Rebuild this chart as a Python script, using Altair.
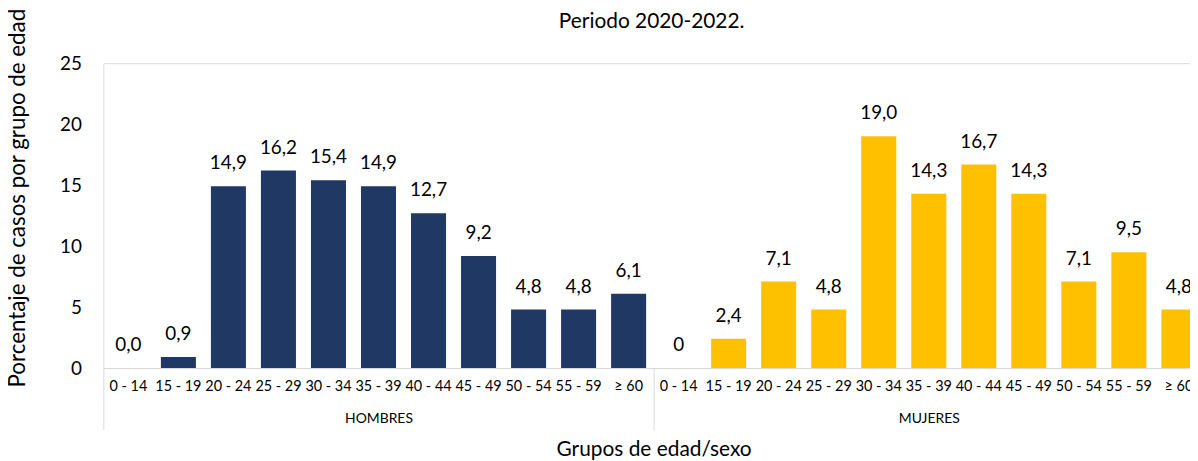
import altair as alt
import pandas as pd

title_text = "Periodo 2020-2022."
ages = ["0 - 14", "15 - 19", "20 - 24", "25 - 29", "30 - 34", "35 - 39",
        "40 - 44", "45 - 49", "50 - 54", "55 - 59", "≥ 60"]
groups = ["HOMBRES", "MUJERES"]
hombres = [0.0, 0.9, 14.9, 16.2, 15.4, 14.9, 12.7, 9.2, 4.8, 4.8, 6.1]
mujeres = [0.0, 2.4, 7.1, 4.8, 19.0, 14.3, 16.7, 14.3, 7.1, 9.5, 4.8]
hombres_lbl = ["0,0", "0,9", "14,9", "16,2", "15,4", "14,9", "12,7", "9,2", "4,8", "4,8", "6,1"]
mujeres_lbl = ["0", "2,4", "7,1", "4,8", "19,0", "14,3", "16,7", "14,3", "7,1", "9,5", "4,8"]
colors = ["#203864", "#FFC000"]

rows = []
for g, vals, lbls in [("HOMBRES", hombres, hombres_lbl), ("MUJERES", mujeres, mujeres_lbl)]:
    for a, v, l in zip(ages, vals, lbls):
        rows.append({"key": g + "|" + a, "sexo": g, "edad": a, "valor": v, "etiqueta": l})
df = pd.DataFrame(rows)
keys = list(df["key"])
gdf = pd.DataFrame({"grupo": groups})
tdf = pd.DataFrame({"t": [title_text]})

FONT = "Lato"
W, H = 1108, 307

x_enc = alt.X(
    "key:N", sort=keys,
    scale=alt.Scale(paddingInner=0.3, paddingOuter=0.15),
    axis=alt.Axis(
        title="", orient="bottom", labelExpr="split(datum.label, '|')[1]",
        labelAngle=0, labelFontSize=14.5, labelFont=FONT, labelColor="#000000",
        labelBaseline="middle", labelPadding=19, ticks=False, tickSize=0,
        domain=True, domainColor="#d9d9d9", domainWidth=1, grid=False,
    ),
)
y_enc = alt.Y(
    "valor:Q",
    scale=alt.Scale(domain=[0, 25], nice=False),
    axis=alt.Axis(
        values=[0, 5, 10, 15, 20, 25], grid=False, domain=False, ticks=False,
        labelFontSize=19, labelFont=FONT, labelColor="#000000", labelPadding=22,
        title="Porcentaje de casos por grupo de edad", titleFontSize=22.5,
        titleFont=FONT, titleFontWeight="normal", titleColor="#000000",
        titleAngle=270, titleAlign="left", titleBaseline="middle",
        titleX=-86, titleY=326,
    ),
)

base = alt.Chart(df)
bars = base.mark_bar().encode(
    x=x_enc, y=y_enc,
    color=alt.Color("sexo:N", scale=alt.Scale(domain=groups, range=colors), legend=None),
)
texts = base.mark_text(baseline="middle", dy=-23, fontSize=19, font=FONT, color="#000000").encode(
    x=alt.X("key:N", sort=keys), y=alt.Y("valor:Q"), text="etiqueta:N",
)
title_mark = alt.Chart(tdf).mark_text(
    fontSize=21, font=FONT, color="#000000", align="center", baseline="alphabetic"
).encode(text="t:N", x=alt.value(W / 2 - 2), y=alt.value(-35))
main = alt.layer(bars, texts, title_mark)

grp = alt.Chart(gdf).mark_point(opacity=0).encode(
    x=alt.X(
        "grupo:N", sort=groups,
        scale=alt.Scale(paddingInner=0, paddingOuter=0),
        axis=alt.Axis(
            orient="bottom", domain=False, ticks=True, tickBand="extent",
            tickSize=62, tickColor="#d9d9d9", tickWidth=1,
            labelFontSize=14, labelFont=FONT, labelColor="#000000",
            labelBaseline="middle", labelPadding=-11, labelAngle=0,
            title="Grupos de edad/sexo", titleFontSize=21, titleFont=FONT,
            titleFontWeight="normal", titleColor="#000000",
            titleBaseline="alphabetic", titleY=88, grid=False,
        ),
    ),
    y=alt.value(0),
)

chart = alt.layer(main, grp).resolve_scale(x="independent").properties(
    width=W, height=H,
    autosize=alt.AutoSizeParams(type="none"),
    padding={"left": 96, "top": 54, "right": -14, "bottom": 92},
).configure_view(stroke=None).configure(background="white")

chart.save("out.html", embed_options={"renderer": "svg", "actions": False})
